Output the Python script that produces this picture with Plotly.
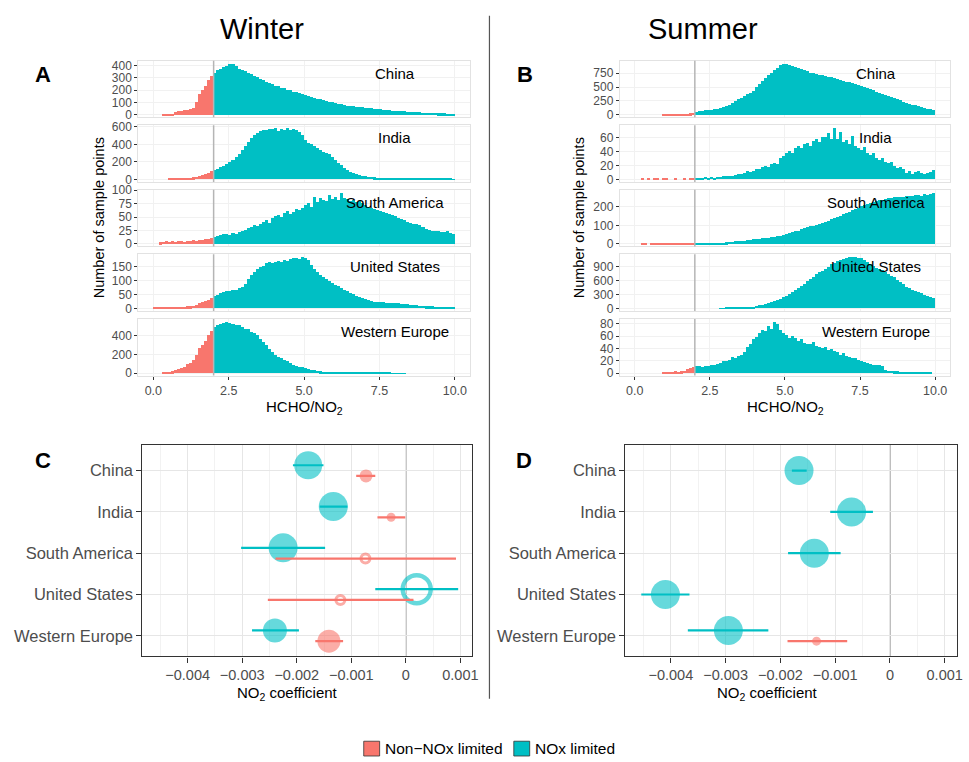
import numpy as np
import plotly.graph_objects as go

W, H = 969, 762
def px(x): return x / W
def py(y): return 1 - y / H

TEAL = "#00BFC4"; RED = "#F8766D"
TEAL_A = "rgba(0,191,196,0.6)"; RED_A = "rgba(248,118,109,0.6)"
FONT = "Liberation Sans, Arial, sans-serif"

# ---------------- data ----------------
regions = ["China", "India", "South America", "United States", "Western Europe"]
threshold = 2.0
bin_width = 0.1
x_ticks_hist = [0, 2.5, 5, 7.5, 10]
x_ticklabels_hist = ["0.0", "2.5", "5.0", "7.5", "10.0"]

# histogram counts, bins of width 0.1 from 0 to 10
winter_china = [0,0,0,1,2,3,5,25,30,34, 40,44,48,60,110,170,200,240,285,320,
 340,365,372,390,398,412,418,395,372,362, 356,342,333,318,308,292,286,272,262,252,
 240,234,222,216,204,200,190,186,176,168, 160,154,144,141,132,128,119,116,107,104,
 98,94,87,84,77,75,71,69,64,62, 60,56,55,50,48,47,43,42,40,37,
 37,34,33,31,29,28,26,24,23,21, 20,19,18,17,15,14,13,12,11,10]
winter_india = [0,0,0,0,0,2,4,6,8,10, 12,15,18,22,28,35,45,58,72,88,
 105,118,135,155,175,198,222,255,290,330, 380,430,470,505,530,548,560,566,575,570,
 584,556,575,568,590,560,572,563,542,500, 452,418,402,376,352,328,316,298,282,248,
 222,188,162,128,106,84,70,58,48,40, 32,27,23,20,17,15,13,11,10,9,
 8,7,6,6,5,5,4,4,4,3, 3,3,3,2,2,2,2,2,2,1]
winter_south_america = [0,0,3,4,5,4,5,4,5,6, 4,5,6,7,6,8,7,9,10,12,
 13,15,17,18,19,17,20,19,22,24, 27,30,32,35,33,38,42,45,40,48,
 52,55,50,58,62,56,60,65,63,68, 72,76,70,88,78,85,82,80,92,84,
 88,82,96,85,84,80,83,78,80,76, 72,70,68,66,64,62,60,58,57,55,
 52,48,46,45,42,40,38,37,35,32, 28,26,25,24,25,23,22,24,21,18]
winter_united_states = [1,1,2,1,2,2,3,2,3,4, 5,6,7,8,12,17,20,24,28,36,
 42,48,55,58,60,62,64,66,70,74, 85,105,120,128,140,146,152,160,164,162,
 166,168,165,172,170,174,178,180,176,184, 180,172,155,140,128,120,112,104,96,90,
 84,78,72,66,60,54,49,44,40,36, 32,28,25,23,22,21,20,19,19,18,
 18,17,16,15,13,12,11,10,9,8, 7,6,6,5,5,5,4,4,4,3]
winter_western_europe = [0,0,0,2,5,10,18,28,40,55, 70,95,110,145,200,270,300,350,410,450,
 500,515,530,545,555,540,528,520,518,500, 480,470,445,430,410,370,340,300,265,230,
 196,175,160,140,125,105,89,80,71,62, 54,45,36,30,24,20,17,14,12,11,
 10,9,8,7,7,6,6,5,5,5, 4,4,3,3,3,3,2,2,2,1,
 1,1,1,1,0,0,0,0,0,0, 0,0,0,0,0,0,0,0,0,0]

summer_china = [0,0,0,0,0,0,0,0,0,4, 5,6,8,10,14,18,22,28,35,45,
 60,68,78,85,92,100,106,115,130,145, 163,185,210,254,285,315,345,375,405,436,
 500,557,620,678,720,768,820,859,900,930, 920,905,889,870,850,829,810,790,768,755,
 738,728,718,708,695,690,678,660,640,617, 605,595,587,570,550,526,505,485,466,445,
 425,405,385,365,345,325,305,284,265,245, 224,205,190,175,160,145,133,118,105,91]
summer_india = [0,0,1,0,1,0,1,1,0,1, 1,0,0,1,0,0,1,0,1,1,
 2,2,1,3,2,3,2,3,3,4, 4,5,4,6,8,7,9,11,10,12,
 15,14,17,19,18,21,23,22,30,33, 38,40,37,44,47,45,50,52,48,55,
 57,54,60,61,66,58,74,57,68,54, 56,50,62,48,45,42,46,38,35,37,
 30,28,31,25,23,24,19,16,18,14, 9,12,8,10,11,9,8,9,10,13]
summer_south_america = [0,0,1,1,0,1,1,2,1,1, 1,2,1,2,2,1,2,2,3,2,
 2,3,2,3,4,3,5,6,7,8, 10,12,13,15,16,18,19,21,22,25,
 28,29,31,33,34,37,40,42,46,50, 54,58,63,68,72,80,85,90,95,98,
 102,108,113,120,126,133,140,147,154,161, 168,175,182,189,196,203,210,216,222,228,
 232,236,240,243,247,249,252,255,256,255, 258,260,262,263,265,262,268,266,270,278]
summer_united_states = [0,0,0,0,0,0,0,0,0,0, 0,0,0,0,0,0,0,0,0,0,
 0,0,0,0,0,0,0,0,1,2, 3,4,5,7,9,11,14,18,23,30,
 50,58,68,80,100,121,145,170,200,230, 264,300,340,380,430,478,530,580,630,680,
 728,770,810,850,890,942,980,1010,1040,1060, 1085,1100,1110,1105,1090,1070,1040,1000,960,915,
 871,845,815,780,740,700,660,615,565,510, 460,430,400,370,345,315,290,265,240,215]
summer_western_europe = [0,0,0,0,0,0,0,0,0,1, 2,1,2,3,2,3,4,6,8,10,
 12,11,10,11,12,13,14,15,17,19, 20,22,27,24,28,30,34,43,48,55,
 59,65,70,68,76,72,84,80,70,66, 62,58,60,57,52,55,49,48,47,50,
 45,43,41,42,38,40,36,34,30,32, 28,27,25,24,22,20,18,16,15,14,
 14,13,12,5,4,4,3,3,2,2, 2,1,1,1,1,1,2,1,1,0]

winter_hists = [winter_china, winter_india, winter_south_america, winter_united_states, winter_western_europe]
summer_hists = [summer_china, summer_india, summer_south_america, summer_united_states, summer_western_europe]

winter_yticks = [[0,100,200,300,400], [0,200,400,600], [0,25,50,75,100], [0,50,100,150], [0,200,400]]
summer_yticks = [[0,250,500,750], [0,20,40,60], [0,100,200], [0,300,600,900], [0,20,40,60,80]]

# NO2 coefficients (point, lower, upper) ; None = no estimate
winter_nox_coef = [-0.00179, -0.00133, -0.00225, 0.00020, -0.00240]
winter_nox_lo   = [-0.00207, -0.00158, -0.00302, -0.00056, -0.00282]
winter_nox_hi   = [-0.00151, -0.00107, -0.00148, 0.00096, -0.00196]
winter_nox_signif = [True, True, True, False, True]
winter_nox_size = [28, 29, 29, 28, 24]
winter_non_coef = [-0.00073, -0.00027, -0.00074, -0.00120, -0.00141]
winter_non_lo   = [-0.00091, -0.00052, -0.00239, -0.00253, -0.00166]
winter_non_hi   = [-0.00056, -0.00001, 0.00092, 0.00014, -0.00115]
winter_non_signif = [True, True, False, False, True]
winter_non_size = [13, 9, 9, 9, 23]

summer_nox_coef = [-0.00166, -0.00070, -0.00138, -0.00410, -0.00295]
summer_nox_lo   = [-0.00179, -0.00109, -0.00186, -0.00454, -0.00369]
summer_nox_hi   = [-0.00152, -0.00031, -0.00090, -0.00366, -0.00222]
summer_nox_signif = [True, True, True, True, True]
summer_nox_size = [29, 29, 29, 29, 29]
summer_non_coef = [None, None, None, None, -0.00134]
summer_non_lo   = [None, None, None, None, -0.00187]
summer_non_hi   = [None, None, None, None, -0.00078]
summer_non_signif = [None, None, None, None, True]
summer_non_size = [None, None, None, None, 9]

coef_ticks = [-0.004, -0.003, -0.002, -0.001, 0, 0.001]
coef_ticklabels = ["\u22120.004", "\u22120.003", "\u22120.002", "\u22120.001", "0", "0.001"]

# ---------------- figure ----------------
def axname(letter, n):
    return letter if n == 1 else f"{letter}{n}"

fig = go.Figure()
layout = dict(width=W, height=H, margin=dict(l=0, r=0, t=0, b=0),
              paper_bgcolor="white", plot_bgcolor="white", showlegend=False,
              barmode="overlay", bargap=0, font=dict(family=FONT, color="black"))
shapes, annotations = [], []

bin_centers = np.arange(100) * bin_width + bin_width / 2
row_tops = [55.5, 121, 186.5, 252, 317.5]
panel_h = 57.5
col_x = [(139.1, 472.9), (623.6, 956.1)]
label_cx = [397, 881]

for c, hists in enumerate([winter_hists, summer_hists]):
    yticks_all = [winter_yticks, summer_yticks][c]
    for r, counts in enumerate(hists):
        n = c * 5 + r + 1
        xa, ya = axname("x", n), axname("y", n)
        colors = [RED if b < threshold else TEAL for b in bin_centers]
        fig.add_trace(go.Bar(x=bin_centers, y=counts, width=bin_width,
                             marker=dict(color=colors, line=dict(width=0)),
                             xaxis=xa, yaxis=ya, hoverinfo="x+y"))
        m = max(counts)
        bottom_row = (r == 4)
        layout[axname("xaxis", n)] = dict(
            domain=[px(col_x[c][0]), px(col_x[c][1])], anchor=ya, range=[-0.5, 10.5],
            tickvals=x_ticks_hist, ticktext=x_ticklabels_hist,
            showticklabels=bottom_row, ticks="outside" if bottom_row else "",
            ticklen=3, tickcolor="#333333", tickfont=dict(size=12.5, color="#4d4d4d"),
            showgrid=True, gridcolor="#f1f1f1", zeroline=False,
            showline=True, linecolor="#e2e2e2", mirror=True)
        layout[axname("yaxis", n)] = dict(
            domain=[py(row_tops[r] + panel_h), py(row_tops[r])], anchor=xa,
            range=[-0.05 * m, 1.05 * m], tickvals=yticks_all[r],
            ticks="outside", ticklen=3, tickcolor="#333333",
            tickfont=dict(size=12, color="#4d4d4d"),
            showgrid=True, gridcolor="#f1f1f1", zeroline=False,
            showline=True, linecolor="#e2e2e2", mirror=True)
        shapes.append(dict(type="line", xref=xa, yref=f"{ya} domain", x0=threshold, x1=threshold,
                           y0=0, y1=1, line=dict(color="#b5b5b5", width=1.5), layer="above"))
        annotations.append(dict(text=regions[r], x=px(label_cx[c]), y=py(row_tops[r] + 12.7),
                                xref="paper", yref="paper", showarrow=False,
                                font=dict(size=15, color="black"), xanchor="center", yanchor="middle"))

# coefficient panels
coef_x = [(143.3, 475.3), (629.3, 962.7)]
coef_top, coef_bot = 445, 660
minor_vals = [-0.0045, -0.0035, -0.0025, -0.0015, -0.0005, 0.0005]
panels = [
    (winter_nox_coef, winter_nox_lo, winter_nox_hi, winter_nox_signif, winter_nox_size,
     winter_non_coef, winter_non_lo, winter_non_hi, winter_non_signif, winter_non_size),
    (summer_nox_coef, summer_nox_lo, summer_nox_hi, summer_nox_signif, summer_nox_size,
     summer_non_coef, summer_non_lo, summer_non_hi, summer_non_signif, summer_non_size),
]
for c, p in enumerate(panels):
    n = 11 + c
    xa, ya = axname("x", n), axname("y", n)
    nox_c, nox_lo, nox_hi, nox_s, nox_sz, non_c, non_lo, non_hi, non_s, non_sz = p
    groups = [(nox_c, nox_lo, nox_hi, nox_s, nox_sz, TEAL, TEAL_A, -1),
              (non_c, non_lo, non_hi, non_s, non_sz, RED, RED_A, 1)]
    line_traces = []
    for coefs, los, his, sig, sz, col, cola, sgn in groups:
        for i, v in enumerate(coefs):
            if v is None:
                continue
            both = nox_c[i] is not None and non_c[i] is not None
            yv = (i + 1) + (sgn * 0.13 if both else 0)
            if sig[i]:
                mk = dict(symbol="circle", size=sz[i], color=cola, line=dict(width=0))
            else:
                lw = 4.5 if sz[i] > 15 else 3
                mk = dict(symbol="circle-open", size=sz[i], color=cola, line=dict(width=lw))
            fig.add_trace(go.Scatter(x=[v], y=[yv], mode="markers", marker=mk,
                                     xaxis=xa, yaxis=ya))
            line_traces.append(go.Scatter(x=[los[i], his[i]], y=[yv, yv], mode="lines",
                                          line=dict(color=col, width=2.2), xaxis=xa, yaxis=ya,
                                          hoverinfo="skip"))
    for t in line_traces:
        fig.add_trace(t)
    layout[axname("xaxis", n)] = dict(
        domain=[px(coef_x[c][0]), px(coef_x[c][1])], anchor=ya, range=[-0.00483, 0.00122],
        tickvals=coef_ticks, ticktext=coef_ticklabels, ticks="outside", ticklen=5,
        tickcolor="#333333", tickwidth=1.2, tickfont=dict(size=14.5, color="#4d4d4d"),
        showgrid=True, gridcolor="#e6e6e6", gridwidth=1, zeroline=False,
        minor=dict(tickmode="array", tickvals=minor_vals, showgrid=True,
                   gridcolor="#f2f2f2", gridwidth=0.6, ticks=""),
        showline=True, linecolor="#333333", linewidth=1.2, mirror=True)
    layout[axname("yaxis", n)] = dict(
        domain=[py(coef_bot), py(coef_top)], anchor=xa, range=[5.5, 0.37],
        tickvals=[1, 2, 3, 4, 5], ticktext=regions, ticks="outside", ticklen=5,
        tickcolor="#333333", tickwidth=1.2, tickfont=dict(size=16.5, color="#4d4d4d"),
        showgrid=True, gridcolor="#e6e6e6", zeroline=False,
        showline=True, linecolor="#333333", linewidth=1.2, mirror=True)
    shapes.append(dict(type="line", xref=xa, yref=f"{ya} domain", x0=0, x1=0, y0=0, y1=1,
                       line=dict(color="#a6a6a6", width=1.6), layer="below"))

# divider
shapes.append(dict(type="line", xref="paper", yref="paper", x0=px(492.5), x1=px(492.5),
                   y0=py(10), y1=py(703), line=dict(color="#555555", width=1.2)))

def ann(text, x, y, size, bold=False, angle=0, xanchor="center", color="black"):
    annotations.append(dict(text=f"<b>{text}</b>" if bold else text, x=px(x), y=py(y),
                            xref="paper", yref="paper", showarrow=False, textangle=angle,
                            font=dict(size=size, color=color), xanchor=xanchor, yanchor="middle"))

ann("Winter", 264, 23, 29)
ann("Summer", 707, 23, 29)
ann("A", 43, 70, 22, bold=True)
ann("B", 528, 70, 22, bold=True)
ann("C", 43, 461, 22, bold=True)
ann("D", 527, 461, 22, bold=True)
ann("Number of sample points", 100, 215, 14.5, angle=-90)
ann("Number of sample points", 583, 215, 14.5, angle=-90)
ann("HCHO/NO<sub>2</sub>", 306, 407, 15)
ann("HCHO/NO<sub>2</sub>", 790, 407, 15)
ann("NO<sub>2</sub> coefficient", 289, 698, 15)
ann("NO<sub>2</sub> coefficient", 772, 698, 15)

# legend
legend_items = [("Non\u2212NOx limited", RED, 366), ("NOx limited", TEAL, 517)]
for txt, col, x0 in legend_items:
    shapes.append(dict(type="rect", xref="paper", yref="paper", x0=px(x0), x1=px(x0 + 16),
                       y0=py(761), y1=py(746), fillcolor=col, line=dict(color="#333333", width=0.8)))
    ann(txt, x0 + 19, 753, 15.5, xanchor="left")

layout["shapes"] = shapes
layout["annotations"] = annotations
fig.update_layout(**layout)
fig.write_html("out.html", config={"displayModeBar": False},
               post_script="document.body.style.margin='0';document.body.style.padding='0';"
                           "document.body.style.overflow='hidden';"
                           "document.documentElement.style.overflow='hidden';")
